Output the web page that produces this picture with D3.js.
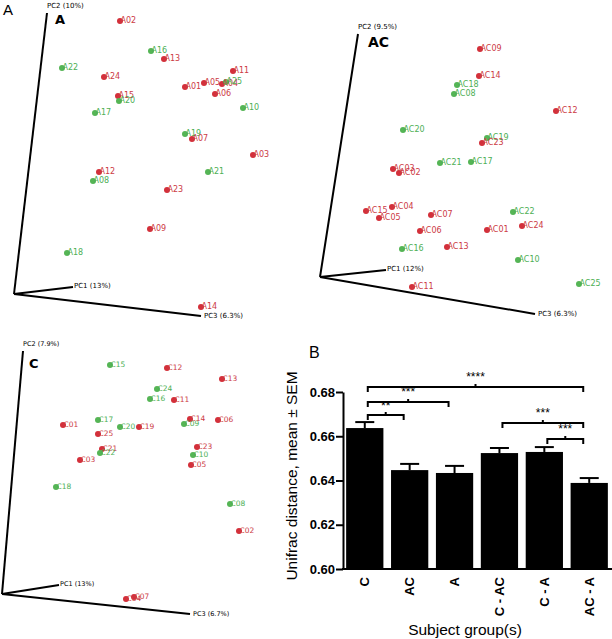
<!DOCTYPE html>
<html><head><meta charset="utf-8">
<script src="https://cdn.jsdelivr.net/npm/d3@7"></script>
<style>body{margin:0;background:#fff}svg{display:block}</style>
</head><body>
<svg id="c" width="612" height="639"></svg>
<script>
// ---------- DATA ----------
// PCoA projected coordinates (panel-local units) : [label, group, x, y]
const pcoaA = [
 ["A02","r",120,21],["A16","g",151,51],["A13","r",164,59],["A22","g",62,68],["A24","r",104,77],
 ["A11","r",233,71],["A01","r",185,87],["A05","r",204,83],["A04","r",222,84],["A25","g",226,82],
 ["A06","r",215,94],["A15","r",118,96],["A20","g",119,101],["A17","g",95,113],["A10","g",243,108],
 ["A19","g",185,134],["A07","r",192,139],["A03","r",253,155],["A12","r",99,172],["A21","g",208,172],
 ["A08","g",93,181],["A23","r",167,190],["A09","r",150,229],["A18","g",67,253],["A14","r",201,307]
];
const pcoaAC = [
 ["AC09","r",180,49],["AC14","r",179,76],["AC18","g",157,85],["AC08","g",154,94],["AC12","r",256,111],
 ["AC20","g",103,130],["AC19","g",187,138],["AC23","r",182,143],["AC21","g",140,163],["AC17","g",171,162],
 ["AC03","r",93,169],["AC02","r",99,173],["AC15","r",66,211],["AC04","r",92,207],["AC05","r",79,218],
 ["AC07","r",131,215],["AC22","g",213,212],["AC06","r",120,231],["AC01","r",187,230],["AC24","r",222,226],
 ["AC16","g",102,249],["AC13","r",147,247],["AC10","g",218,260],["AC25","g",279,284],["AC11","r",112,287]
];
const pcoaC = [
 ["C15","g",110,45],["C12","r",167,48],["C13","r",222,59],["C24","g",157,69],["C16","g",150,79],
 ["C11","r",174,80],["C17","g",98,100],["C09","g",184,104],["C14","r",190,99],["C06","r",218,100],
 ["C01","r",63,105],["C20","g",120,107],["C19","r",139,107],["C25","r",98,114],["C23","r",197,127],
 ["C21","r",102,129],["C22","g",100,133],["C10","g",193,135],["C03","r",80,140],["C05","r",191,145],
 ["C18","g",56,167],["C08","g",230,184],["C02","r",239,211],["C04","r",126,279],["C07","r",134,277]
];
const axisLabelsA = ["PC1 (13%)","PC2 (10%)","PC3 (6.3%)"];
const axisLabelsAC = ["PC1 (12%)","PC2 (9.5%)","PC3 (6.3%)"];
const axisLabelsC = ["PC1 (13%)","PC2 (7.9%)","PC3 (6.7%)"];

// Bar chart
const groups = ["C","AC","A","C - AC","C - A","AC - A"];
const means  = [0.6637,0.6447,0.6434,0.6524,0.6529,0.6389];
const sems   = [0.0027,0.0028,0.0032,0.0023,0.0022,0.0022];
const yTicks = [0.60,0.62,0.64,0.66,0.68];
// significance brackets: [fromGroup, toGroup, yValue, stars]
const sigFrom  = ["C","C","C","C - AC","C - A"];
const sigTo    = ["AC - A","A","AC","AC - A","AC - A"];
const sigY     = [0.6823,0.6755,0.6696,0.6660,0.6588];
const sigStars = ["****","***","**","***","***"];

// ---------- DRAW ----------
const svg = d3.select("#c");
const RED = "#d3303a", GREEN = "#55b555";
const RED_T = "#cc3a44", GREEN_T = "#4daf55";

function pcoa(data, ox, oy, axes, labels, title, opts){
  const x = d3.scaleLinear().domain([0,300]).range([ox, ox+300]);
  const y = d3.scaleLinear().domain([0,320]).range([oy, oy+320]);
  const g = svg.append("g");
  const [o,p1,p2,p3] = axes;
  [p1,p2,p3].forEach(p=>{
    g.append("line").attr("x1",x(o[0])).attr("y1",y(o[1])).attr("x2",x(p[0])).attr("y2",y(p[1]))
     .attr("stroke","#000").attr("stroke-width",2);
  });
  const fs = opts.axfs;
  g.append("text").attr("x",x(p1[0])+1).attr("y",y(p1[1])+0.5).text(labels[0])
   .attr("font-family","DejaVu Sans").attr("font-size",fs);
  g.append("text").attr("x",x(p2[0])).attr("y",y(p2[1])-5).text(labels[1])
   .attr("font-family","DejaVu Sans").attr("font-size",fs);
  g.append("text").attr("x",x(p3[0])+3).attr("y",y(p3[1])+2).text(labels[2])
   .attr("font-family","DejaVu Sans").attr("font-size",fs);
  g.append("text").attr("x",x(opts.tx)).attr("y",y(opts.ty)).text(title)
   .attr("font-family","DejaVu Sans").attr("font-weight","bold").attr("font-size",opts.tfs);
  g.selectAll("circle").data(data).enter().append("circle")
   .attr("cx",d=>x(d[2])).attr("cy",d=>y(d[3])).attr("r",3)
   .attr("fill",d=>d[1]==="r"?RED:GREEN);
  g.selectAll("text.pt").data(data).enter().append("text").attr("class","pt")
   .attr("x",d=>x(d[2])+0.5).attr("y",d=>y(d[3])+1.5).text(d=>d[0])
   .attr("font-family","DejaVu Sans").attr("font-size",opts.pfs)
   .attr("fill",d=>d[1]==="r"?RED_T:GREEN_T);
}

pcoa(pcoaA,0,0,[[14,294],[73,287],[47,13],[201,316]],axisLabelsA,"A",{axfs:7,tfs:13,tx:55,ty:24,pfs:8});
pcoa(pcoaAC,300,0,[[20,277],[86,270],[58,34],[235,314]],axisLabelsAC,"AC",{axfs:7,tfs:14,tx:68,ty:47,pfs:8});
pcoa(pcoaC,0,320,[[2,274],[59,265],[23,31],[190,294]],axisLabelsC,"C",{axfs:6.5,tfs:13,tx:29,ty:48,pfs:7.5});

// figure labels
svg.append("text").attr("x",3).attr("y",15).text("A").attr("font-family","Liberation Sans, Arial").attr("font-size",15);
svg.append("text").attr("x",309).attr("y",358).text("B").attr("font-family","Liberation Sans, Arial").attr("font-size",16);

// bar chart
const xb = d3.scaleBand().domain(groups).range([343,611]).paddingInner(0.17).paddingOuter(0.07);
const yb = d3.scaleLinear().domain([0.60,0.68]).range([569,392]);
const bg = svg.append("g");
bg.selectAll("rect").data(groups).enter().append("rect")
  .attr("x",d=>xb(d)).attr("width",xb.bandwidth())
  .attr("y",(d,i)=>yb(means[i])).attr("height",(d,i)=>yb(0.60)-yb(means[i]))
  .attr("fill","#000");
groups.forEach((gname,i)=>{
  const cx = xb(gname)+xb.bandwidth()/2;
  bg.append("line").attr("x1",cx).attr("x2",cx).attr("y1",yb(means[i])).attr("y2",yb(means[i]+sems[i]))
    .attr("stroke","#000").attr("stroke-width",2);
  bg.append("line").attr("x1",cx-9.5).attr("x2",cx+9.5).attr("y1",yb(means[i]+sems[i])).attr("y2",yb(means[i]+sems[i]))
    .attr("stroke","#000").attr("stroke-width",2);
});
const yAxis = d3.axisLeft(yb).tickValues(yTicks).tickFormat(d3.format(".2f")).tickSize(7).tickSizeOuter(0).tickPadding(1);
const ya = svg.append("g").attr("transform","translate(343,0)").call(yAxis);
ya.selectAll("path,line").attr("stroke","#000").attr("stroke-width",2);
ya.selectAll("text").attr("font-family","Liberation Sans, Arial").attr("font-weight","bold").attr("font-size",13).attr("fill","#000");
const xAxis = d3.axisBottom(xb).tickSize(0).tickSizeOuter(0).tickPadding(0);
const xa = svg.append("g").attr("transform","translate(0,569)").call(xAxis);
xa.select("path").attr("stroke","#000").attr("stroke-width",2).attr("d","M342,0H612");
xa.selectAll("text").attr("font-family","Liberation Sans, Arial").attr("font-weight","bold").attr("font-size",13)
  .attr("fill","#000").attr("text-anchor","end").attr("dy","0.35em").attr("y",0)
  .attr("transform","translate(0,8) rotate(-90)");

// brackets
sigFrom.forEach((f,i)=>{
  const x1 = xb(f)+xb.bandwidth()/2+3;
  const x2 = xb(sigTo[i])+xb.bandwidth()/2-6;
  const yy = yb(sigY[i]);
  const mid = (x1+x2)/2;
  svg.append("path").attr("d",`M${x1},${yy+5}V${yy}H${x2}V${yy+5}M${mid},${yy}V${yy-3}`)
    .attr("fill","none").attr("stroke","#000").attr("stroke-width",2);
  svg.append("text").attr("x",mid).attr("y",yy-6.5+1).attr("text-anchor","middle").text(sigStars[i])
    .attr("font-family","Liberation Sans, Arial").attr("font-size",12);
});

svg.append("text").attr("transform","translate(297,476) rotate(-90)").attr("text-anchor","middle")
  .text("Unifrac distance, mean ± SEM").attr("font-family","Liberation Sans, Arial").attr("font-size",15.5);
svg.append("text").attr("x",465).attr("y",635).attr("text-anchor","middle")
  .text("Subject group(s)").attr("font-family","Liberation Sans, Arial").attr("font-size",15.5);
</script>
</body></html>
